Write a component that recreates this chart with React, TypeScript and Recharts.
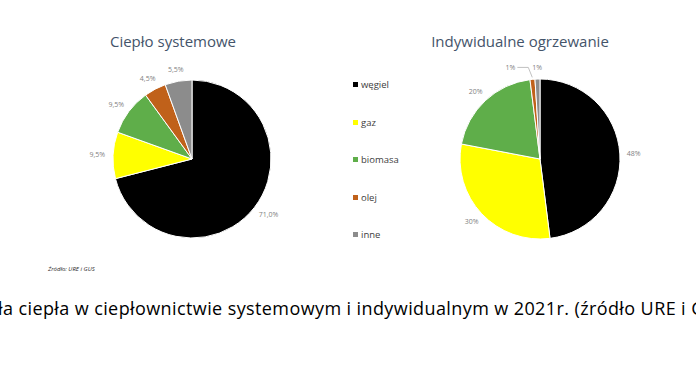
import { PieChart, Pie, Cell } from "recharts";

const categories = ["węgiel", "gaz", "biomasa", "olej", "inne"];
const colors = ["#000000", "#ffff00", "#5fae4a", "#c0611a", "#8c8c8c"];
const systemValues = [71.0, 9.5, 9.5, 4.5, 5.5];
const systemLabels = ["71,0%", "9,5%", "9,5%", "4,5%", "5,5%"];
const individualValues = [48, 30, 20, 1, 1];
const individualLabels = ["48%", "30%", "20%", "1%", "1%"];

const systemData = categories.map((name, i) => ({ name, value: systemValues[i], label: systemLabels[i] }));
const individualData = categories.map((name, i) => ({ name, value: individualValues[i], label: individualLabels[i] }));

const RAD = Math.PI / 180;
const font = "'Open Sans', 'Liberation Sans', sans-serif";

// data label outside the slice, like excel's "outside end"
function renderLabel(props: any) {
  const { cx, cy, midAngle, outerRadius, payload, percent, index } = props;
  const dx = Math.cos(midAngle * RAD);
  const dy = -Math.sin(midAngle * RAD);
  const w = payload.label.length * 3.9;
  const r = outerRadius + 8;
  let x = cx + r * dx + (dx * w) / 2;
  let y = cy + r * dy + (dy * 8) / 2;
  // tiny slice next to another tiny slice: pull the label aside with a leader line
  if (percent < 0.02 && index === 3) {
    const ex = cx + (outerRadius + 2) * dx;
    const ey = cy + (outerRadius + 2) * dy;
    x -= 21;
    return (
      <g>
        <polyline points={`${ex},${ey} ${ex - 4},${y} ${x + 7},${y}`} fill="none" stroke="#a6a6a6" strokeWidth={0.7} />
        <text x={x} y={y} fill="#7f7f7f" fontSize={7} fontFamily={font} textAnchor="middle" dominantBaseline="central">
          {payload.label}
        </text>
      </g>
    );
  }
  return (
    <text x={x} y={y} fill="#7f7f7f" fontSize={7} fontFamily={font} textAnchor="middle" dominantBaseline="central">
      {payload.label}
    </text>
  );
}

export default function App() {
  return (
    <div style={{ position: "fixed", left: 0, top: 0, width: 696, height: 373, background: "#fff", overflow: "hidden", fontFamily: font }}>
      <div style={{ position: "absolute", left: 63, top: 31, width: 220, textAlign: "center", fontSize: 15, color: "#44546a" }}>
        Ciepło systemowe
      </div>
      <div style={{ position: "absolute", left: 410, top: 31, width: 220, textAlign: "center", fontSize: 15, color: "#44546a" }}>
        Indywidualne ogrzewanie
      </div>
      <div style={{ position: "absolute", left: 0, top: 0 }}>
        <PieChart width={696} height={260} margin={{ top: 0, right: 0, bottom: 0, left: 0 }}>
          <Pie
            data={systemData}
            dataKey="value"
            cx={192}
            cy={159}
            outerRadius={79}
            startAngle={90}
            endAngle={-270}
            stroke="#ffffff"
            strokeWidth={1}
            label={renderLabel}
            labelLine={false}
            isAnimationActive={false}
          >
            {systemData.map((d, i) => (
              <Cell key={d.name} fill={colors[i]} />
            ))}
          </Pie>
          <Pie
            data={individualData}
            dataKey="value"
            cx={540}
            cy={159}
            outerRadius={80}
            startAngle={90}
            endAngle={-270}
            stroke="#ffffff"
            strokeWidth={1}
            label={renderLabel}
            labelLine={false}
            isAnimationActive={false}
          >
            {individualData.map((d, i) => (
              <Cell key={d.name} fill={colors[i]} />
            ))}
          </Pie>
        </PieChart>
      </div>
      {categories.map((name, i) => (
        <div
          key={name}
          style={{ position: "absolute", left: 353, top: 78 + i * 37.5, display: "flex", alignItems: "center", fontSize: 9.5, color: "#404040" }}
        >
          <span style={{ display: "inline-block", width: 5, height: 5, background: colors[i], marginRight: 3 }} />
          {name}
        </div>
      ))}
      <div style={{ position: "absolute", left: 48, top: 265, fontSize: 6, fontStyle: "italic", color: "#262626" }}>
        Źródło: URE i GUS
      </div>
      <div style={{ position: "absolute", left: -2, top: 299, whiteSpace: "nowrap", fontSize: 18, lineHeight: 1, letterSpacing: 0.4, color: "#000" }}>
        ła ciepła w ciepłownictwie systemowym i indywidualnym w 2021r. (źródło URE i GUS)
      </div>
    </div>
  );
}
